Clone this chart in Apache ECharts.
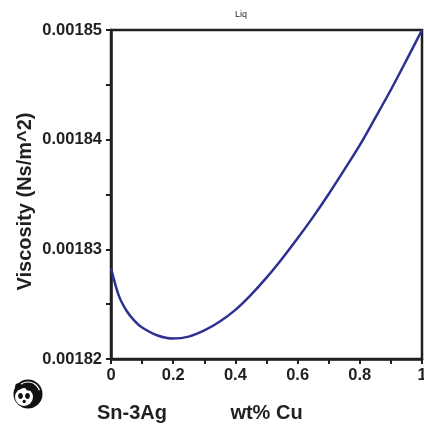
<!DOCTYPE html>
<html>
<head>
<meta charset="utf-8">
<script src="https://cdn.jsdelivr.net/npm/echarts@6/dist/echarts.min.js"></script>
<style>
  html, body { margin: 0; padding: 0; background: #ffffff; }
  #chart { width: 424px; height: 425px; }
</style>
</head>
<body>
<div id="chart"></div>
<script>
// ---- data ----
const wtCu = [0, 0.025, 0.05, 0.075, 0.1, 0.15, 0.2, 0.25, 0.3, 0.35, 0.4, 0.45, 0.5,
              0.55, 0.6, 0.65, 0.7, 0.75, 0.8, 0.85, 0.9, 0.95, 1.0];
const viscosity = [0.00182829, 0.00182578, 0.0018244, 0.0018235, 0.00182287, 0.00182214,
                   0.00182186, 0.00182204, 0.0018226, 0.00182342, 0.00182448, 0.00182585,
                   0.00182742, 0.00182915, 0.001831, 0.00183296, 0.00183505, 0.00183725,
                   0.0018395, 0.001842, 0.00184455, 0.00184725, 0.00185];
const xTickLabels = ['0', '0.2', '0.4', '0.6', '0.8', '1'];
const yTickLabels = ['0.00182', '0.00183', '0.00184', '0.00185'];
const chartTitle = 'Liq';
const xAxisTitle = 'wt% Cu';
const yAxisTitle = 'Viscosity (Ns/m^2)';
const systemLabel = 'Sn-3Ag';

const ink = '#231f20';
const font = '"Liberation Sans", Arial, sans-serif';

const chart = echarts.init(document.getElementById('chart'), null, { renderer: 'canvas' });

chart.setOption({
  animation: false,
  backgroundColor: '#ffffff',
  grid: {
    left: 111, right: 2, top: 30, bottom: 66,
    outerBoundsMode: 'none',
    containLabel: false,
    show: true, borderColor: ink, borderWidth: 2.5, backgroundColor: 'transparent'
  },
  xAxis: {
    type: 'value',
    min: 0, max: 1, interval: 0.2,
    name: xAxisTitle,
    nameLocation: 'middle',
    nameGap: 44,
    nameTextStyle: { fontFamily: font, fontSize: 20, fontWeight: 'bold', color: ink },
    axisLine: { show: true, onZero: false, lineStyle: { color: ink, width: 2.5 } },
    axisTick: { show: true, inside: false, length: 5, lineStyle: { color: ink, width: 2 } },
    minorTick: { show: true, splitNumber: 2, length: 5, lineStyle: { color: ink, width: 2 } },
    splitLine: { show: false },
    axisLabel: {
      margin: 8,
      fontFamily: font, fontSize: 16.5, fontWeight: 'bold', color: ink,
      formatter: function (v) {
        const i = Math.round(v / 0.2);
        return xTickLabels[i] !== undefined ? xTickLabels[i] : '';
      }
    }
  },
  yAxis: {
    type: 'value',
    min: 0.00182, max: 0.00185, interval: 0.00001,
    axisLine: { show: true, onZero: false, lineStyle: { color: ink, width: 2.5 } },
    axisTick: { show: true, inside: false, length: 5, lineStyle: { color: ink, width: 2 } },
    minorTick: { show: true, splitNumber: 2, length: 5, lineStyle: { color: ink, width: 2 } },
    splitLine: { show: false },
    axisLabel: {
      margin: 9,
      fontFamily: font, fontSize: 16.5, fontWeight: 'bold', color: ink,
      formatter: function (v) {
        const i = Math.round((v - 0.00182) / 0.00001);
        return yTickLabels[i] !== undefined ? yTickLabels[i] : '';
      }
    }
  },
  series: [{
    type: 'line',
    data: wtCu.map((x, i) => [x, viscosity[i]]),
    smooth: 0.3,
    showSymbol: false,
    clip: false,
    lineStyle: { color: '#2e3192', width: 2.5 }
  }],
  graphic: [
    {
      type: 'text', x: 241, y: 15,
      style: { text: chartTitle, fontFamily: font, fontSize: 9, fill: ink, align: 'center', verticalAlign: 'middle' }
    },
    {
      type: 'text', x: 25, y: 201.5, rotation: Math.PI / 2,
      style: { text: yAxisTitle, fontFamily: font, fontSize: 20, fontWeight: 'bold', fill: ink, align: 'center', verticalAlign: 'middle' }
    },
    {
      type: 'text', x: 97, y: 413.5,
      style: { text: systemLabel, fontFamily: font, fontSize: 20, fontWeight: 'bold', fill: ink, align: 'left', verticalAlign: 'middle' }
    },
    // small panda logo (decoration)
    { type: 'circle', shape: { cx: 28, cy: 394, r: 14.5 }, style: { fill: '#111111' } },
    { type: 'arc', shape: { cx: 28, cy: 394, r: 12, startAngle: -Math.PI * 0.75, endAngle: -Math.PI * 0.1 },
      style: { stroke: '#ffffff', lineWidth: 1.2, fill: null } },
    { type: 'circle', shape: { cx: 24, cy: 397, r: 9 }, style: { fill: '#ffffff' } },
    { type: 'circle', shape: { cx: 18.5, cy: 386.5, r: 3.3 }, style: { fill: '#111111' } },
    { type: 'circle', shape: { cx: 29, cy: 387.5, r: 3.3 }, style: { fill: '#111111' } },
    { type: 'ellipse', shape: { cx: 20.5, cy: 396, rx: 2.4, ry: 2.9 }, style: { fill: '#111111' } },
    { type: 'ellipse', shape: { cx: 27.5, cy: 396, rx: 2.4, ry: 2.9 }, style: { fill: '#111111' } },
    { type: 'circle', shape: { cx: 24.2, cy: 401.5, r: 1.7 }, style: { fill: '#111111' } }
  ]
});
</script>
</body>
</html>
